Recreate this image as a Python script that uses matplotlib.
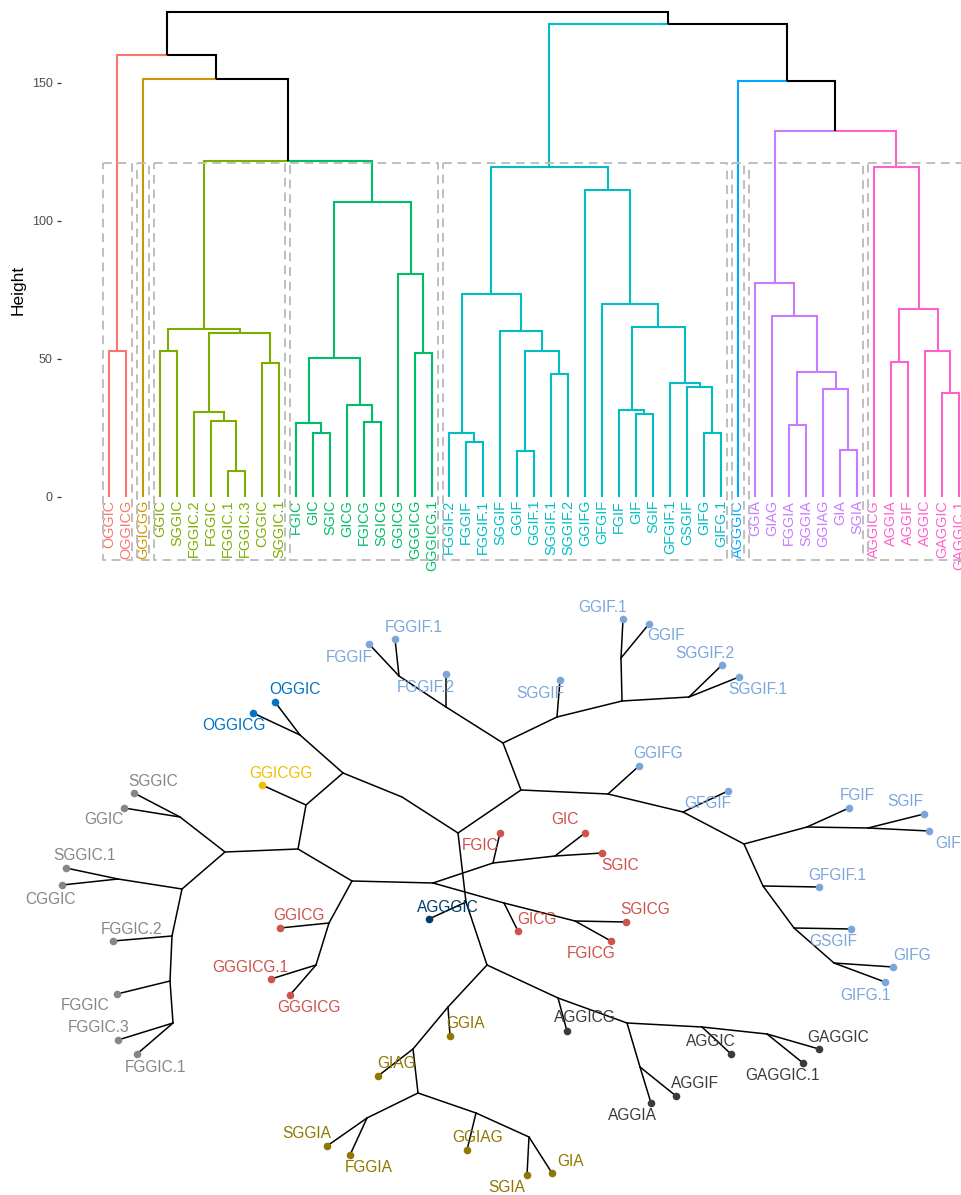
import matplotlib.pyplot as plt

plt.rcParams['font.family'] = ['Liberation Sans', 'DejaVu Sans']

# ---- data ----------------------------------------------------------------
# leaves in dendrogram order and their cluster (k = 8)
leaf_labels = ["OGGIC", "OGGICG", "GGICGG", "GGIC", "SGGIC", "FGGIC.2", "FGGIC",
               "FGGIC.1", "FGGIC.3", "CGGIC", "SGGIC.1", "FGIC", "GIC", "SGIC",
               "GICG", "FGICG", "SGICG", "GGICG", "GGGICG", "GGGICG.1",
               "FGGIF.2", "FGGIF", "FGGIF.1", "SGGIF", "GGIF", "GGIF.1",
               "SGGIF.1", "SGGIF.2", "GGIFG", "GFGIF", "FGIF", "GIF", "SGIF",
               "GFGIF.1", "GSGIF", "GIFG", "GIFG.1", "AGGGIC", "GGIA", "GIAG",
               "FGGIA", "SGGIA", "GGIAG", "GIA", "SGIA", "AGGICG", "AGGIA",
               "AGGIF", "AGGIC", "GAGGIC", "GAGGIC.1"]
leaf_cluster = [0] * 2 + [1] + [2] * 8 + [3] * 9 + [4] * 17 + [5] + [6] * 7 + [7] * 6

# hierarchical merges, bottom-up (id, left child, right child, height)
merge_ids = ["og", "gs", "f13", "f", "f2", "cs", "fc", "olive",
             "gsic", "fgic", "fsicg", "gicg", "g50", "ggg", "ggicg", "green",
             "L3", "L2", "L",
             "ff1", "ff2", "gg", "ss", "ggss", "sggif", "cl",
             "gsif", "fgif", "gifg", "gsgif", "gf1", "c61", "c70", "cr", "cyan",
             "gia", "giag", "fsgia", "p45", "p66", "purple",
             "aa", "gag", "agc", "p68", "pink",
             "R3", "R2", "R1", "root"]
merge_left = ["OGGIC", "GGIC", "FGGIC.1", "FGGIC", "FGGIC.2", "CGGIC", "f2", "gs",
              "GIC", "FGIC", "FGICG", "GICG", "fgic", "GGGICG", "GGICG", "g50",
              "olive", "GGICGG", "og",
              "FGGIF", "FGGIF.2", "GGIF", "SGGIF.1", "gg", "SGGIF", "ff2",
              "GIF", "FGIF", "GIFG", "GSGIF", "GFGIF.1", "fgif", "GFGIF", "GGIFG", "cl",
              "GIA", "GGIAG", "FGGIA", "fsgia", "GIAG", "GGIA",
              "AGGIA", "GAGGIC", "AGGIC", "aa", "AGGICG",
              "purple", "AGGGIC", "cyan", "L"]
merge_right = ["OGGICG", "SGGIC", "FGGIC.3", "f13", "f", "SGGIC.1", "cs", "fc",
               "SGIC", "gsic", "SGICG", "fsicg", "gicg", "GGGICG.1", "ggg", "ggicg",
               "green", "L3", "L2",
               "FGGIF.1", "ff1", "GGIF.1", "SGGIF.2", "ss", "ggss", "sggif",
               "SGIF", "gsif", "GIFG.1", "gifg", "gsgif", "gf1", "c61", "c70", "cr",
               "SGIA", "gia", "SGGIA", "giag", "p45", "p66",
               "AGGIF", "GAGGIC.1", "gag", "agc", "p68",
               "pink", "R3", "R2", "R1"]
merge_height = [52.9, 52.8, 9.5, 27.7, 30.8, 48.7, 59.5, 61.0,
                23.3, 26.7, 27.3, 33.3, 50.5, 52.0, 80.8, 106.9,
                121.7, 151.3, 160.1,
                20.0, 23.3, 16.8, 44.4, 52.8, 60.1, 73.6,
                30.1, 31.5, 23.3, 39.7, 41.2, 61.5, 69.9, 111.2, 119.7,
                17.0, 39.3, 26.1, 45.2, 65.7, 77.4,
                48.8, 37.6, 53.0, 68.1, 119.6,
                132.6, 150.7, 171.4, 175.7]
cut_height = 121.0

# unrooted (phylogenic) layout: leaves, then merges
leaf_tx = [275, 253, 262, 124, 134, 113, 117, 137, 118, 62, 66,
           500, 585, 602, 518, 611, 626, 280, 290, 271,
           446, 369, 395, 560, 649, 623, 739, 722, 639, 728, 849, 929, 924,
           819, 851, 893, 885, 429, 450, 378, 350, 327, 467, 552, 527,
           567, 651, 676, 731, 819, 803]
leaf_ty = [702, 713, 785, 808, 793, 941, 994, 1054, 1040, 885, 868,
           833, 833, 853, 931, 941, 922, 928, 995, 979,
           674, 644, 639, 680, 624, 619, 677, 665, 766, 791, 808, 831, 814,
           887, 929, 967, 982, 919, 1036, 1076, 1155, 1146, 1150, 1173, 1175,
           1031, 1103, 1096, 1054, 1049, 1063]
merge_tx = [300, 180, 173, 170, 172, 118, 182, 225,
            555, 493, 575, 504, 433, 316, 329, 352,
            298, 306, 343,
            399, 446, 621, 689, 622, 557, 503,
            868, 807, 834, 794, 763, 744, 683, 608, 521,
            529, 476, 367, 418, 413, 448,
            640, 767, 702, 627, 558,
            487, 466, 458, 402]
merge_ty = [735, 817, 1023, 981, 936, 879, 889, 852,
            856, 863, 921, 903, 883, 965, 923, 881,
            849, 805, 773,
            676, 707, 658, 697, 701, 717, 743,
            828, 827, 963, 928, 886, 844, 812, 794, 790,
            1137, 1113, 1118, 1093, 1049, 1007,
            1067, 1034, 1027, 1023, 998,
            965, 902, 833, 797]

# ---- styles ----------------------------------------------------------------
dend_pal = ["#F8766D", "#CD9600", "#7CAE00", "#00BE67",
            "#00BFC4", "#00A9FF", "#C77CFF", "#FF61CC"]
jco_pal = ["#0073C2", "#EFC000", "#868686", "#CD534C",
           "#7AA6DC", "#003C67", "#8F7700", "#3B3B3B"]

# label offsets from the leaf dot in the lower panel (pixels)
lab_dx = [20, -19, 19, -20, 19, 19, -32, 19, -19, -12, 19,
          -20, -20, 18, 19, -20, 19, 19, 19, -21,
          -20, -20, 19, -20, 17, -20, 19, -17, 19, -20, 8, 19, -19,
          18, -18, 19, -20, 19, 16, 19, 19, -20, 11, 19, -20,
          18, -19, 19, -20, 19, -20]
lab_dy = [-12, 12, -12, 12, -12, -12, 12, 13, -12, 14, -12,
          13, -13, 12, -12, 12, -12, -12, 13, -12,
          13, 13, -12, 13, 11, -12, 13, -11, -12, 13, -13, 13, -12,
          -12, 12, -12, 13, -11, -13, -13, 13, -12, -12, -12, 12,
          -13, 13, -13, -12, -12, 13]

# ---- build tree ----------------------------------------------------------
children = {m: (l, r) for m, l, r in zip(merge_ids, merge_left, merge_right)}
height = {lab: 0.0 for lab in leaf_labels}
height.update(dict(zip(merge_ids, merge_height)))
xpos = {lab: i for i, lab in enumerate(leaf_labels)}
members = {lab: {c} for lab, c in zip(leaf_labels, leaf_cluster)}
for m in merge_ids:
    l, r = children[m]
    xpos[m] = (xpos[l] + xpos[r]) / 2
    members[m] = members[l] | members[r]


def dend_color(node):
    s = members[node]
    return dend_pal[next(iter(s))] if len(s) == 1 else "black"


W, H = 961, 1195
fig = plt.figure(figsize=(W / 100, H / 100), dpi=100)

# ---- top: dendrogram -----------------------------------------------------
ax = fig.add_axes([61 / W, 1 - 570 / H, 900 / W, 570 / H])
for m in merge_ids:
    for c in children[m]:
        ax.plot([xpos[m], xpos[c], xpos[c]], [height[m], height[m], height[c]],
                color=dend_color(c), lw=1.5, solid_joinstyle="miter",
                solid_capstyle="butt", zorder=2)

for i, (lab, c) in enumerate(zip(leaf_labels, leaf_cluster)):
    ax.text(i, -1.0, lab, rotation=90, ha="center", va="top",
            color=dend_pal[c], fontsize=10.4, zorder=3)

# dashed rectangles around the 8 clusters
for k in range(8):
    idx = [i for i, c in enumerate(leaf_cluster) if c == k]
    x0, x1 = idx[0] - 0.36, idx[-1] + 0.36
    ax.plot([x0, x1, x1, x0, x0], [cut_height, cut_height, -23, -23, cut_height],
            color="#BEBEBE", lw=1.4, ls=(0, (4.5, 3)), zorder=4)

ax.set_xlim(-2.82, 50.12)
ax.set_ylim(-26.45, 180.07)
for s in ax.spines.values():
    s.set_visible(False)
ax.set_xticks([])
ax.set_yticks([0, 50, 100, 150])
ax.tick_params(axis="y", length=3, width=0.9, color="#333333",
               labelcolor="#4D4D4D", labelsize=9, pad=3)
fig.text(18 / W, 1 - 290 / H, "Height", rotation=90, ha="center", va="center",
         fontsize=12.5, color="black")

# ---- bottom: phylogenic tree ---------------------------------------------
ax2 = fig.add_axes([0, 0, 1, 625 / H])
tx = dict(zip(leaf_labels, leaf_tx))
ty = dict(zip(leaf_labels, leaf_ty))
tx.update(zip(merge_ids, merge_tx))
ty.update(zip(merge_ids, merge_ty))

for m in merge_ids:
    for c in children[m]:
        ax2.plot([tx[m], tx[c]], [ty[m], ty[c]], color="black", lw=1.1,
                 solid_capstyle="round", zorder=1)

for lab, c, dx, dy in zip(leaf_labels, leaf_cluster, lab_dx, lab_dy):
    ax2.scatter(tx[lab], ty[lab], s=30, color=jco_pal[c], zorder=3, linewidths=0)
    ax2.text(tx[lab] + dx, ty[lab] + dy, lab, ha="center", va="center",
             color=jco_pal[c], fontsize=11.2, zorder=4)

ax2.set_xlim(0, W)
ax2.set_ylim(H, 570)
ax2.axis("off")

fig.savefig("out.png", dpi=100)
